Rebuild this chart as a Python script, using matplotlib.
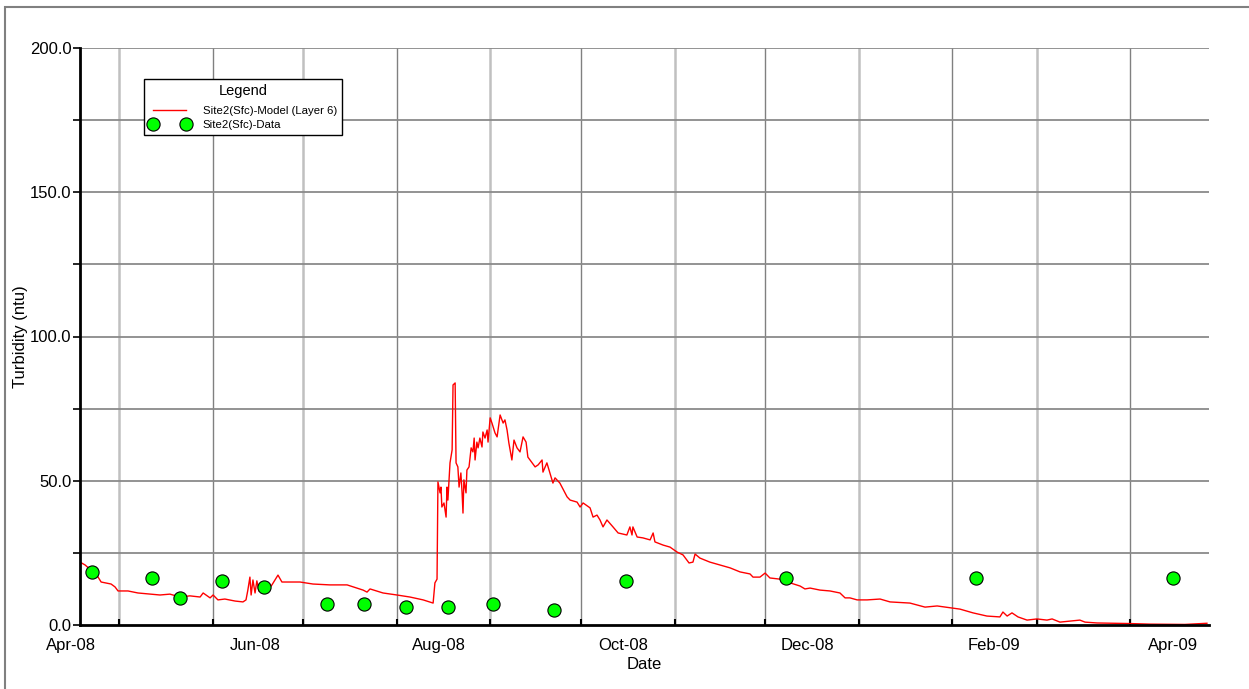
# Turbidity at Site2 (surface): model vs. observed data
import numpy as np
import matplotlib.pyplot as plt
import matplotlib.dates as mdates
from matplotlib.lines import Line2D
from matplotlib.patches import Rectangle

plt.rcParams['font.family'] = ['Liberation Sans', 'DejaVu Sans']

# Model series: days after 2008-04-18 and turbidity (ntu)
start = np.datetime64('2008-04-18T00:00')
model_days = [
    0.0, 1.7, 4.3, 6.0, 7.0, 10.3, 11.6, 12.6, 15.9, 19.2, 23.2, 26.5, 29.8, 33.1,
    36.4, 39.8, 40.8, 43.1, 44.1, 45.7, 48.0, 51.4, 54.0, 55.0, 55.6, 56.3, 56.7,
    57.3, 58.0, 58.6, 59.3, 60.3, 61.0, 62.3, 63.6, 65.6, 66.9, 68.6, 72.9, 77.2,
    82.8, 88.5, 93.8, 95.1, 96.1, 100.4, 105.0, 109.3, 113.7, 117.0, 117.6, 118.3,
    118.6, 119.3, 119.6, 119.9, 120.6, 121.3, 121.6, 121.9, 122.6, 123.3, 123.6,
    124.3, 124.6, 125.2, 125.6, 126.2, 126.6, 126.9, 127.2, 127.9, 128.2, 128.9,
    129.6, 130.2, 130.6, 130.9, 131.5, 131.9, 132.5, 133.2, 133.5, 134.2, 134.9,
    135.2, 135.9, 136.5, 137.5, 138.2, 139.2, 139.8, 140.2, 140.8, 141.5, 142.1,
    143.1, 143.8, 144.8, 145.8, 146.8, 147.8, 148.4, 149.8, 150.8, 151.8, 153.1,
    153.4, 154.7, 155.7, 156.7, 157.4, 159.0, 161.4, 162.4, 164.7, 165.7, 166.7,
    169.0, 170.0, 171.3, 172.3, 173.3, 174.6, 176.6, 178.3, 181.2, 182.2, 182.9,
    183.2, 184.6, 186.5, 188.9, 189.9, 190.5, 193.2, 195.5, 197.8, 199.8, 201.8,
    203.1, 203.8, 205.4, 208.7, 212.1, 215.4, 218.7, 222.0, 223.0, 225.3, 227.0,
    228.6, 231.9, 235.3, 238.6, 240.2, 241.9, 245.2, 248.5, 251.8, 253.5, 255.1,
    257.5, 260.8, 265.1, 268.4, 275.0, 280.0, 284.0, 289.0, 291.6, 295.9, 300.5,
    304.8, 305.8, 307.2, 308.8, 310.8, 313.8, 317.1, 320.4, 322.1, 324.7, 331.3,
    333.0, 337.0, 347.9, 354.5, 366.1, 373.4,
]
model_ntu = [
    21.8, 20.8, 18.4, 16.6, 14.9, 14.2, 13.2, 11.8, 11.8, 11.1, 10.7, 10.4, 10.7, 9.7,
    10.1, 9.7, 11.1, 9.4, 10.4, 8.7, 9.0, 8.3, 8.0, 8.7, 12.0, 16.6, 10.4,
    15.6, 11.1, 15.3, 11.8, 13.5, 13.2, 12.1, 13.9, 17.3, 14.9, 14.9, 14.9, 14.2,
    13.9, 13.9, 12.1, 11.4, 12.5, 11.1, 10.4, 9.7, 8.7, 7.6, 14.6, 15.9,
    49.6, 45.8, 47.8, 40.9, 42.3, 37.4, 47.8, 43.3, 56.2, 60.7, 83.2,
    83.9, 56.2, 54.8, 47.8, 52.7, 45.8, 38.8, 50.3, 45.8, 53.7, 54.8,
    61.4, 60.0, 64.8, 57.2, 63.4, 61.4, 64.8, 61.7, 66.9, 64.8, 67.6,
    63.4, 71.8, 70.0, 66.6, 65.2, 72.8, 71.1, 70.0, 71.1, 67.6, 63.1,
    57.2, 64.1, 61.4, 60.0, 65.2, 63.4, 58.2, 56.2, 54.8, 55.5, 57.2,
    53.0, 56.2, 52.7, 49.2, 51.0, 49.2, 44.4, 43.3, 42.6, 40.9, 42.3,
    40.6, 37.4, 38.1, 36.4, 34.0, 36.4, 34.0, 31.9, 31.2, 34.0, 31.2,
    34.0, 30.5, 30.2, 29.5, 31.9, 28.8, 27.7, 27.0, 25.3, 24.3, 21.5,
    21.8, 24.6, 23.2, 21.8, 20.8, 19.8, 18.4, 17.7, 16.6, 16.6, 18.0,
    16.3, 15.9, 14.6, 13.5, 12.5, 12.8, 12.1, 11.8, 11.1, 9.4, 9.4,
    8.7, 8.7, 9.0, 8.0, 7.6, 6.2, 6.6, 5.9, 5.5, 4.2, 3.1,
    2.8, 4.5, 3.1, 4.2, 2.8, 1.7, 2.1, 1.7, 2.1, 1.0, 1.7,
    1.0, 0.7, 0.5, 0.3, 0.2, 0.6,
]

# Observed samples
data_dates = ['2008-04-22', '2008-05-12', '2008-05-21', '2008-06-04', '2008-06-18',
              '2008-07-09', '2008-07-21', '2008-08-04', '2008-08-18', '2008-09-02',
              '2008-09-22', '2008-10-16', '2008-12-08', '2009-02-09', '2009-04-15']
data_ntu = [18.4, 16.3, 9.4, 15.3, 13.2, 7.3, 7.3, 6.2, 6.2, 7.3, 5.2, 15.3, 16.3, 16.3, 16.3]

# Axis labels: every other month, placed mid-month
label_dates = ['2008-04-15', '2008-06-15', '2008-08-15', '2008-10-15',
               '2008-12-15', '2009-02-15', '2009-04-15']
label_text = ['Apr-08', 'Jun-08', 'Aug-08', 'Oct-08', 'Dec-08', 'Feb-09', 'Apr-09']
month_starts = ['2008-05-01', '2008-06-01', '2008-07-01', '2008-08-01', '2008-09-01',
                '2008-10-01', '2008-11-01', '2008-12-01', '2009-01-01', '2009-02-01',
                '2009-03-01', '2009-04-01']

model_t = start + (np.array(model_days) * 1440).astype('timedelta64[m]')
data_t = np.array(data_dates, dtype='datetime64[D]')

fig = plt.figure(figsize=(12.49, 6.89), dpi=100)
ax = fig.add_axes([80 / 1249, 1 - 625 / 689, 1129 / 1249, 577 / 689])

# outer frame
fig.patches.append(Rectangle((5 / 1249, -0.1), 1.2, 1 - 7 / 689 + 0.1, transform=fig.transFigure,
                             fill=False, edgecolor='#808080', linewidth=1.5))

# grid
for i, m in enumerate(month_starts):
    if i % 2 == 0:
        ax.axvline(np.datetime64(m), color='#c0c0c0', lw=1.8, zorder=0)
    else:
        ax.axvline(np.datetime64(m), color='#808080', lw=1.0, zorder=0)
for yv in range(25, 201, 25):
    ax.axhline(yv, color='#8a8a8a', lw=1.3, zorder=0)

ax.plot(model_t, model_ntu, color='#ff0000', lw=1.0, zorder=2)
ax.plot(data_t, data_ntu, 'o', color='#00ff00', markeredgecolor='black',
        markeredgewidth=0.8, markersize=9.5, zorder=3)

ax.set_xlim(start, np.datetime64('2009-04-27T02:00'))
ax.set_ylim(0, 200)

ax.set_yticks([0, 50, 100, 150, 200])
ax.set_yticks([25, 75, 125, 175], minor=True)
ax.set_yticklabels([f'{v:.1f}' for v in [0, 50, 100, 150, 200]], fontsize=12)
ax.tick_params(axis='y', which='both', direction='out', length=5, width=1.2, pad=1)

ax.set_xticks(np.array(month_starts, dtype='datetime64[D]'))
ax.set_xticklabels([])
ax.tick_params(axis='x', which='both', direction='in', length=4, width=1.5)
for d, s in zip(label_dates, label_text):
    ax.text(mdates.date2num(np.datetime64(d)), -0.035, s, ha='center', va='center',
            fontsize=12, transform=ax.get_xaxis_transform(), clip_on=False)

ax.text(0.5, -0.0685, 'Date', ha='center', va='center', fontsize=12, transform=ax.transAxes)
ax.text(-0.053, 0.5, 'Turbidity (ntu)', ha='center', va='center', rotation=90,
        fontsize=12, transform=ax.transAxes)

for side in ['top', 'right']:
    ax.spines[side].set_visible(False)
for side in ['left', 'bottom']:
    ax.spines[side].set_linewidth(2)

handles = [Line2D([], [], color='#ff0000', lw=1.0),
           Line2D([], [], ls='none', marker='o', color='#00ff00', markeredgecolor='black',
                  markeredgewidth=0.8, markersize=9.5)]
leg = ax.legend(handles, ['Site2(Sfc)-Model (Layer 6)', 'Site2(Sfc)-Data'],
                title='Legend', loc='upper left', bbox_to_anchor=(64 / 1129, 1 - 31 / 577),
                fontsize=8.2, title_fontsize=10.5, numpoints=2, handlelength=3.5,
                frameon=True, fancybox=False, edgecolor='black', framealpha=1,
                borderpad=0.45, labelspacing=0.3, handletextpad=1.2, borderaxespad=0)
leg.get_frame().set_linewidth(1.0)
# more room between the title and the entries
leg._legend_box.sep = 6

fig.savefig('out.png', dpi=100)
